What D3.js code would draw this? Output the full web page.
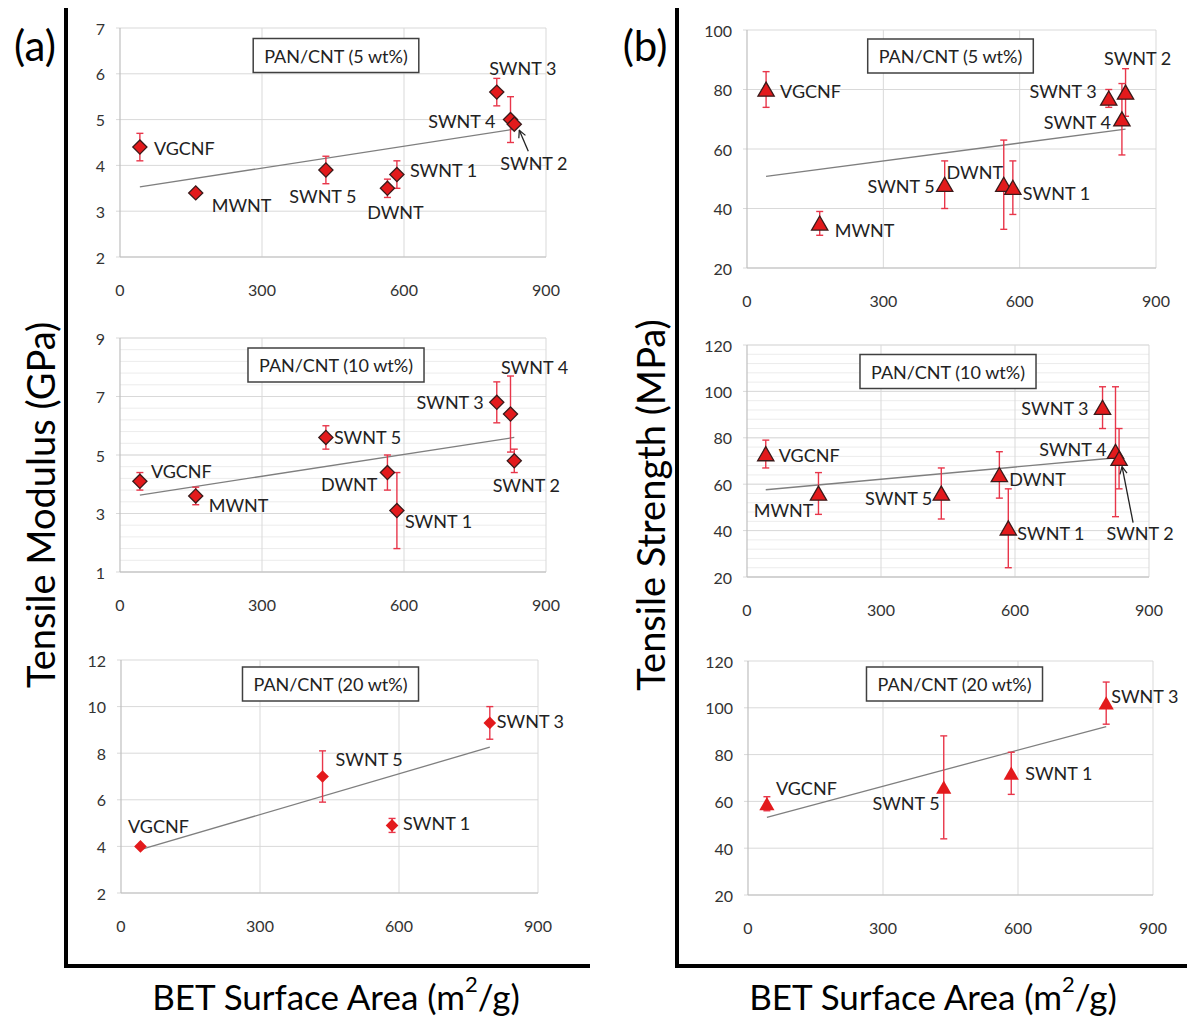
<!DOCTYPE html>
<html>
<head>
<meta charset="utf-8">
<script src="https://cdn.jsdelivr.net/npm/d3@7"></script>
<style>
  body { margin: 0; background: #fff; }
  text { font-family: Lato, "Open Sans", sans-serif; fill: #222; }
</style>
</head>
<body>
<svg id="chart" width="1187" height="1017"></svg>
<script>
// ---- data ----
var materials = ['VGCNF', 'MWNT', 'SWNT 5', 'DWNT', 'SWNT 1', 'SWNT 3', 'SWNT 4', 'SWNT 2'];
var betArea   = [42, 160, 435, 565, 585, 796, 825, 833];

// tensile modulus, GPa
var modulus5     = [4.4, 3.4, 3.9, 3.5, 3.8, 5.6, 5.0, 4.9];
var modulus5Err  = [0.3, 0, 0.3, 0.2, 0.3, 0.3, 0.5, 0];
var modulus10    = [4.1, 3.6, 5.6, 4.4, 3.1, 6.8, 6.4, 4.8];
var modulus10Err = [0.3, 0.3, 0.4, 0.6, 1.3, 0.7, 1.3, 0.4];
var modulus20    = [4.0, null, 7.0, null, 4.9, 9.3, null, null];
var modulus20Err = [0, null, 1.1, null, 0.3, 0.7, null, null];

// tensile strength, MPa
var strength5     = [80, 35, 48, 48, 47, 77, 70, 79];
var strength5Err  = [6, 4, 8, 15, 9, 3, 12, 8];
var strength10    = [73, 56, 56, 64, 41, 93, 74, 71];
var strength10Err = [6, 9, 11, 10, 17, 9, 28, 13];
var strength20    = [59, null, 66, null, 72, 102, null, null];
var strength20Err = [3, null, 22, null, 9, 9, null, null];

// linear trendlines: [start, end] as [BET, value]
var trendModulus5   = [[42, 3.53], [833, 4.79]];
var trendModulus10  = [[42, 3.63], [833, 5.6]];
var trendModulus20  = [[42, 3.86], [796, 8.26]];
var trendStrength5  = [[42, 50.8], [833, 66.7]];
var trendStrength10 = [[42, 57.6], [833, 71.5]];
var trendStrength20 = [[42, 53.2], [796, 92]];

var xTicks = [0, 300, 600, 900];
var boxTitles = ['PAN/CNT (5 wt%)', 'PAN/CNT (10 wt%)', 'PAN/CNT (20 wt%)'];

// ---- layout ----
var RED = '#e31a1c', ERR = '#e8364a';

var panels = [
  { rect: [120, 546, 28, 257], yDom: [2, 7], yStep: 1, minor: null,
    vals: modulus5, errs: modulus5Err, trend: trendModulus5, shape: 'diamond', outline: true,
    title: boxTitles[0], box: [216, 27.5],
    labels: [[14, 1, 'start'], [16, 12, 'start'], [-3, 26, 'middle'], [8, 24, 'middle'], [13, -5, 'start'],
             [26, -24, 'middle'], [-15, 1, 'end'], [-14, 39, 'start']],
    arrow: [[14, 27], [5, 6]] },
  { rect: [120, 546, 338, 572], yDom: [1, 9], yStep: 2, minor: 0.4,
    vals: modulus10, errs: modulus10Err, trend: trendModulus10, shape: 'diamond', outline: true,
    title: boxTitles[1], box: [216, 27],
    labels: [[11, -10, 'start'], [13, 9, 'start'], [8, 0, 'start'], [-10, 11, 'end'], [8, 10, 'start'],
             [-13, 0, 'end'], [24, -47, 'middle'], [12, 24, 'middle']],
    arrow: null },
  { rect: [121, 538, 660, 893], yDom: [2, 12], yStep: 2, minor: null,
    vals: modulus20, errs: modulus20Err, trend: trendModulus20, shape: 'diamond', outline: false,
    title: boxTitles[2], box: [209.5, 24],
    labels: [[18, -20, 'middle'], null, [13, -18, 'start'], null, [11, -2, 'start'], [7, -2, 'start'], null, null],
    arrow: null },
  { rect: [747, 1156, 30, 268], yDom: [20, 100], yStep: 20, minor: null,
    vals: strength5, errs: strength5Err, trend: trendStrength5, shape: 'triangle', outline: true,
    title: boxTitles[0], box: [203.5, 26],
    labels: [[14, 1, 'start'], [15, 7, 'start'], [-10, 1, 'end'], [-29, -13, 'middle'], [10, 5, 'start'],
             [-12, -7, 'end'], [-11, 3, 'end'], [12, -34, 'middle']],
    arrow: null },
  { rect: [747, 1149, 345, 577], yDom: [20, 120], yStep: 20, minor: 4,
    vals: strength10, errs: strength10Err, trend: trendStrength10, shape: 'triangle', outline: true,
    title: boxTitles[1], box: [201, 26.5],
    labels: [[13, 1, 'start'], [-5, 17, 'end'], [-9, 5, 'end'], [10, 4, 'start'], [9, 5, 'start'],
             [-14, 0, 'end'], [-9, -3, 'end'], [21, 74, 'middle']],
    arrow: [[14, 64], [3, 8]] },
  { rect: [748, 1153, 661, 895], yDom: [20, 120], yStep: 20, minor: null,
    vals: strength20, errs: strength20Err, trend: trendStrength20, shape: 'triangle', outline: false,
    title: boxTitles[2], box: [206.5, 23],
    labels: [[9, -16, 'start'], null, [-4, 16, 'end'], null, [14, 0, 'start'], [5, -7, 'start'], null, null],
    arrow: null }
];

var svg = d3.select('#chart');

svg.append('defs').append('marker')
  .attr('id', 'arrowhead')
  .attr('viewBox', '0 0 10 10')
  .attr('refX', 9).attr('refY', 5)
  .attr('markerWidth', 9).attr('markerHeight', 9)
  .attr('markerUnits', 'userSpaceOnUse')
  .attr('orient', 'auto')
  .append('path')
  .attr('d', 'M1,1 L9,5 L1,9')
  .attr('fill', 'none').attr('stroke', '#222').attr('stroke-width', 1.4);

function drawPanel(p) {
  var x = d3.scaleLinear().domain([0, 900]).range([p.rect[0], p.rect[1]]);
  var y = d3.scaleLinear().domain(p.yDom).range([p.rect[3], p.rect[2]]);
  var g = svg.append('g');
  var yTicks = d3.range(p.yDom[0], p.yDom[1] + 1e-6, p.yStep);

  if (p.minor) {
    g.selectAll('.minor').data(d3.range(p.yDom[0], p.yDom[1] + 1e-6, p.minor)).enter()
      .append('line')
      .attr('x1', p.rect[0]).attr('x2', p.rect[1])
      .attr('y1', function(d) { return y(d) }).attr('y2', function(d) { return y(d) })
      .attr('stroke', '#ececec').attr('stroke-width', 1);
  }
  g.selectAll('.hgrid').data(yTicks).enter().append('line')
    .attr('x1', p.rect[0] - 4).attr('x2', p.rect[1])
    .attr('y1', function(d) { return y(d) }).attr('y2', function(d) { return y(d) })
    .attr('stroke', '#d9d9d9').attr('stroke-width', 1);
  g.selectAll('.vgrid').data(xTicks.slice(1)).enter().append('line')
    .attr('x1', function(d) { return x(d) }).attr('x2', function(d) { return x(d) })
    .attr('y1', p.rect[2]).attr('y2', p.rect[3])
    .attr('stroke', '#d9d9d9').attr('stroke-width', 1);
  // axis lines
  g.append('line').attr('x1', p.rect[0]).attr('x2', p.rect[0]).attr('y1', p.rect[2]).attr('y2', p.rect[3])
    .attr('stroke', '#bfbfbf').attr('stroke-width', 1.2);
  g.append('line').attr('x1', p.rect[0]).attr('x2', p.rect[1]).attr('y1', p.rect[3]).attr('y2', p.rect[3])
    .attr('stroke', '#bfbfbf').attr('stroke-width', 1.2);

  // tick labels
  g.selectAll('.ylab').data(yTicks).enter().append('text')
    .attr('x', p.rect[0] - 15).attr('y', function(d) { return y(d) })
    .attr('dominant-baseline', 'central').attr('text-anchor', 'end')
    .attr('font-size', 16).style('fill', '#333')
    .text(function(d) { return d3.format('d')(d) });
  g.selectAll('.xlab').data(xTicks).enter().append('text')
    .attr('x', function(d) { return x(d) }).attr('y', p.rect[3] + 32)
    .attr('dominant-baseline', 'central').attr('text-anchor', 'middle')
    .attr('font-size', 16).style('fill', '#333')
    .text(function(d) { return d });

  // trendline
  g.append('line')
    .attr('x1', x(p.trend[0][0])).attr('y1', y(p.trend[0][1]))
    .attr('x2', x(p.trend[1][0])).attr('y2', y(p.trend[1][1]))
    .attr('stroke', '#7f7f7f').attr('stroke-width', 1.3);

  var pts = materials.map(function(m, i) {
    return { name: m, bet: betArea[i], v: p.vals[i], e: p.errs[i], lab: p.labels[i] };
  }).filter(function(d) { return d.v !== null });

  // error bars
  var eb = g.selectAll('.err').data(pts.filter(function(d) { return d.e > 0 })).enter().append('g');
  eb.append('line')
    .attr('x1', function(d) { return x(d.bet) }).attr('x2', function(d) { return x(d.bet) })
    .attr('y1', function(d) { return y(d.v - d.e) }).attr('y2', function(d) { return y(d.v + d.e) })
    .attr('stroke', ERR).attr('stroke-width', 1.4);
  [-1, 1].forEach(function(s) {
    eb.append('line')
      .attr('x1', function(d) { return x(d.bet) - 3.5 }).attr('x2', function(d) { return x(d.bet) + 3.5 })
      .attr('y1', function(d) { return y(d.v + s * d.e) }).attr('y2', function(d) { return y(d.v + s * d.e) })
      .attr('stroke', ERR).attr('stroke-width', 1.4);
  });

  // markers
  var sym = p.shape === 'diamond'
    ? d3.symbol(d3.symbolSquare, p.outline ? 100 : 80)
    : d3.symbol(d3.symbolTriangle, p.outline ? 115 : 100);
  g.selectAll('.mk').data(pts).enter().append('path')
    .attr('d', sym)
    .attr('transform', function(d) {
      return p.shape === 'diamond'
        ? 'translate(' + x(d.bet) + ',' + y(d.v) + ') rotate(45)'
        : 'translate(' + x(d.bet) + ',' + (y(d.v) + 2) + ')';
    })
    .attr('fill', RED)
    .attr('stroke', p.outline ? '#3a1a1a' : 'none')
    .attr('stroke-width', 1.3);

  // point labels
  g.selectAll('.plab').data(pts).enter().append('text')
    .attr('x', function(d) { return x(d.bet) + d.lab[0] })
    .attr('y', function(d) { return y(d.v) + d.lab[1] })
    .attr('text-anchor', function(d) { return d.lab[2] })
    .attr('dominant-baseline', 'central')
    .attr('font-size', 18)
    .text(function(d) { return d.name });

  if (p.arrow) {
    var last = pts[pts.length - 1];
    g.append('line')
      .attr('x1', x(last.bet) + p.arrow[0][0]).attr('y1', y(last.v) + p.arrow[0][1])
      .attr('x2', x(last.bet) + p.arrow[1][0]).attr('y2', y(last.v) + p.arrow[1][1])
      .attr('stroke', '#222').attr('stroke-width', 1.3)
      .attr('marker-end', 'url(#arrowhead)');
  }

  // series box
  var bx = g.append('g');
  var t = bx.append('text')
    .attr('x', p.rect[0] + p.box[0]).attr('y', p.rect[2] + p.box[1])
    .attr('text-anchor', 'middle').attr('dominant-baseline', 'central')
    .attr('font-size', 18).text(p.title);
  var bb = t.node().getBBox();
  bx.insert('rect', 'text')
    .attr('x', bb.x - 11).attr('y', p.rect[2] + p.box[1] - 17)
    .attr('width', bb.width + 22).attr('height', 34)
    .attr('fill', '#fff').attr('stroke', '#404040').attr('stroke-width', 1.5);
}

panels.forEach(drawPanel);

// frames
var frames = [[66, 590], [677, 1187]];
frames.forEach(function(f) {
  svg.append('line').attr('x1', f[0]).attr('x2', f[0]).attr('y1', 8).attr('y2', 968)
    .attr('stroke', '#000').attr('stroke-width', 4);
  svg.append('line').attr('x1', f[0] - 2).attr('x2', f[1]).attr('y1', 966).attr('y2', 966)
    .attr('stroke', '#000').attr('stroke-width', 4);
});

// panel letters
[['(a)', 35], ['(b)', 645]].forEach(function(l) {
  svg.append('text').attr('x', l[1]).attr('y', 45)
    .attr('text-anchor', 'middle').attr('dominant-baseline', 'central')
    .attr('font-size', 42).style('fill', '#000').text(l[0]);
});

// axis titles
[['Tensile Modulus (GPa)', 40], ['Tensile Strength (MPa)', 650]].forEach(function(l) {
  svg.append('text')
    .attr('transform', 'translate(' + l[1] + ',505) rotate(-90)')
    .attr('text-anchor', 'middle').attr('dominant-baseline', 'central')
    .attr('font-size', 38).style('fill', '#000').text(l[0]);
});
[336, 933].forEach(function(cx) {
  var t = svg.append('text').attr('x', cx).attr('y', 996)
    .attr('text-anchor', 'middle').attr('dominant-baseline', 'central')
    .attr('font-size', 35).style('fill', '#000');
  t.append('tspan').text('BET Surface Area (m');
  t.append('tspan').attr('dy', -13).attr('font-size', 22).text('2');
  t.append('tspan').attr('dy', 13).text('/g)');
});
</script>
</body>
</html>
